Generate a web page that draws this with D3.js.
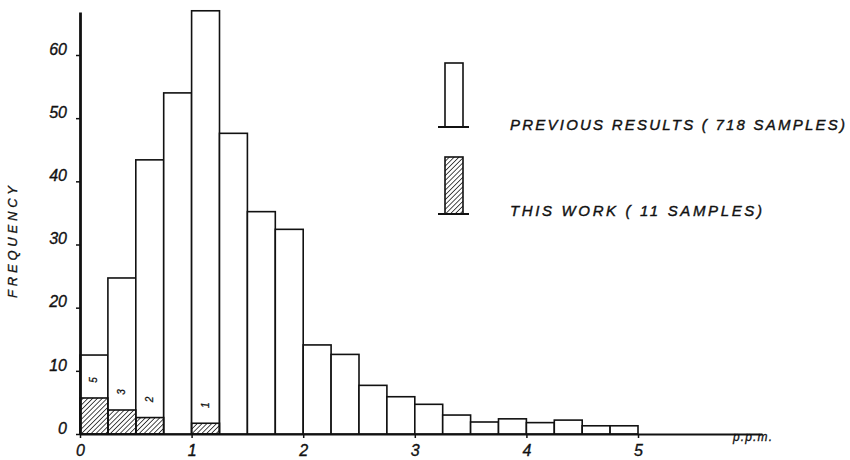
<!DOCTYPE html>
<html>
<head>
<meta charset="utf-8">
<script src="https://cdn.jsdelivr.net/npm/d3@7"></script>
<style>
  html, body { margin: 0; padding: 0; background: #fff; }
  svg { display: block; }
  text { font-family: "Liberation Sans", Arial, sans-serif; fill: #111; }
</style>
</head>
<body>
<svg id="chart" width="850" height="460"></svg>
<script>
// ---- data ----
const binStarts = [0, 0.25, 0.5, 0.75, 1.0, 1.25, 1.5, 1.75, 2.0, 2.25, 2.5, 2.75, 3.0, 3.25, 3.5, 3.75, 4.0, 4.25, 4.5, 4.75];
const binWidth = 0.25;
const previousFreq = [12.5, 24.7, 43.4, 54, 67, 47.6, 35.2, 32.4, 14.1, 12.6, 7.7, 5.9, 4.7, 3.0, 1.9, 2.4, 1.8, 2.2, 1.3, 1.3];
const thisWorkStarts = [0, 0.25, 0.5, 1.0];
const thisWorkFreq = [5.7, 3.8, 2.6, 1.7];
const thisWorkCounts = ["5", "3", "2", "1"];
const yTicks = [0, 10, 20, 30, 40, 50, 60];
const xTicks = [0, 1, 2, 3, 4, 5];
const legendLabels = ["PREVIOUS RESULTS ( 718 SAMPLES)", "THIS WORK ( 11 SAMPLES)"];
const yTitle = "FREQUENCY";
const xUnit = "p.p.m.";

// ---- drawing ----
const svg = d3.select("#chart");
const x = d3.scaleLinear().domain([0, 5]).range([80, 638]);
const y = d3.scaleLinear().domain([0, 60]).range([434, 55]);
const yTop = 66.8;
const xEnd = 762;

const defs = svg.append("defs");
defs.append("pattern")
  .attr("id", "hatch")
  .attr("patternUnits", "userSpaceOnUse")
  .attr("width", 3.4).attr("height", 3.4)
  .attr("patternTransform", "rotate(45)")
  .append("line")
  .attr("x1", 0).attr("y1", 0).attr("x2", 0).attr("y2", 3.4)
  .attr("stroke", "#111").attr("stroke-width", 1.5);

// previous bars
svg.append("g").selectAll("rect")
  .data(binStarts.map((s, i) => ({s, v: previousFreq[i]})))
  .join("rect")
  .attr("x", d => x(d.s))
  .attr("width", d => x(d.s + binWidth) - x(d.s))
  .attr("y", d => y(d.v))
  .attr("height", d => y(0) - y(d.v))
  .attr("fill", "#fff")
  .attr("stroke", "#111")
  .attr("stroke-width", 1.6);

// this work bars
const tw = thisWorkStarts.map((s, i) => ({s, v: thisWorkFreq[i], c: thisWorkCounts[i]}));
svg.append("g").selectAll("rect")
  .data(tw)
  .join("rect")
  .attr("x", d => x(d.s))
  .attr("width", d => x(d.s + binWidth) - x(d.s))
  .attr("y", d => y(d.v))
  .attr("height", d => y(0) - y(d.v))
  .attr("fill", "url(#hatch)")
  .attr("stroke", "#111")
  .attr("stroke-width", 1.6);

// count labels
svg.append("g").selectAll("text")
  .data(tw)
  .join("text")
  .attr("transform", d => `translate(${x(d.s + binWidth / 2)},${y(d.v) - 18}) rotate(-90)`)
  .attr("text-anchor", "middle")
  .attr("dy", "0.35em")
  .style("font-size", "10px")
  .style("font-style", "italic")
  .attr("stroke", "#111").attr("stroke-width", 0.3)
  .text(d => d.c);

// y axis
const yAxisScale = d3.scaleLinear().domain([0, yTop]).range([y(0), y(yTop)]);
const gy = svg.append("g").attr("transform", "translate(80,0)")
  .call(d3.axisLeft(yAxisScale).tickValues(yTicks).tickSize(4).tickSizeOuter(0));
gy.select(".domain").attr("stroke", "#111").attr("stroke-width", 2.8);
gy.selectAll(".tick line").attr("stroke", "#111").attr("stroke-width", 1.5);
gy.selectAll(".tick text")
  .attr("x", -13).attr("dy", "-0.05em")
  .style("font-size", "16px").style("font-style", "italic")
  .attr("fill", "#111").attr("stroke", "#111").attr("stroke-width", 0.35);

// x axis
const xAxisScale = d3.scaleLinear().domain([0, x.invert(xEnd)]).range([80, xEnd]);
const gx = svg.append("g").attr("transform", `translate(0,${y(0)})`)
  .call(d3.axisBottom(xAxisScale).tickValues(xTicks).tickSize(4).tickSizeOuter(0).tickFormat(d3.format("d")));
gx.select(".domain").attr("stroke", "#111").attr("stroke-width", 2.2);
gx.selectAll(".tick line").attr("stroke", "#111").attr("stroke-width", 1.5);
gx.selectAll(".tick text")
  .attr("y", 11)
  .style("font-size", "16px").style("font-style", "italic")
  .attr("fill", "#111").attr("stroke", "#111").attr("stroke-width", 0.35);

// unit label
svg.append("text")
  .attr("x", 733).attr("y", 441)
  .style("font-size", "12px").style("font-style", "italic")
  .attr("stroke", "#111").attr("stroke-width", 0.3)
  .attr("textLength", 39).attr("lengthAdjust", "spacing")
  .text(xUnit);

// y title
svg.append("text")
  .attr("transform", "translate(17,242) rotate(-90)")
  .attr("text-anchor", "middle")
  .style("font-size", "13px").style("font-style", "italic")
  .attr("stroke", "#111").attr("stroke-width", 0.35)
  .attr("textLength", 112).attr("lengthAdjust", "spacing")
  .text(yTitle);

// legend
const legend = svg.append("g");
const legendItems = [
  {label: legendLabels[0], fill: "#fff", top: 63, bottom: 127, textY: 130, len: 335},
  {label: legendLabels[1], fill: "url(#hatch)", top: 157, bottom: 214, textY: 216, len: 252}
];
legendItems.forEach(it => {
  legend.append("rect")
    .attr("x", 445).attr("y", it.top)
    .attr("width", 18).attr("height", it.bottom - it.top)
    .attr("fill", it.fill).attr("stroke", "#111").attr("stroke-width", 1.6);
  legend.append("line")
    .attr("x1", 438).attr("x2", 469).attr("y1", it.bottom).attr("y2", it.bottom)
    .attr("stroke", "#111").attr("stroke-width", 2);
  legend.append("text")
    .attr("x", 510).attr("y", it.textY)
    .style("font-size", "15px").style("font-style", "italic")
    .attr("stroke", "#111").attr("stroke-width", 0.4)
    .attr("textLength", it.len).attr("lengthAdjust", "spacing")
    .text(it.label);
});
</script>
</body>
</html>
